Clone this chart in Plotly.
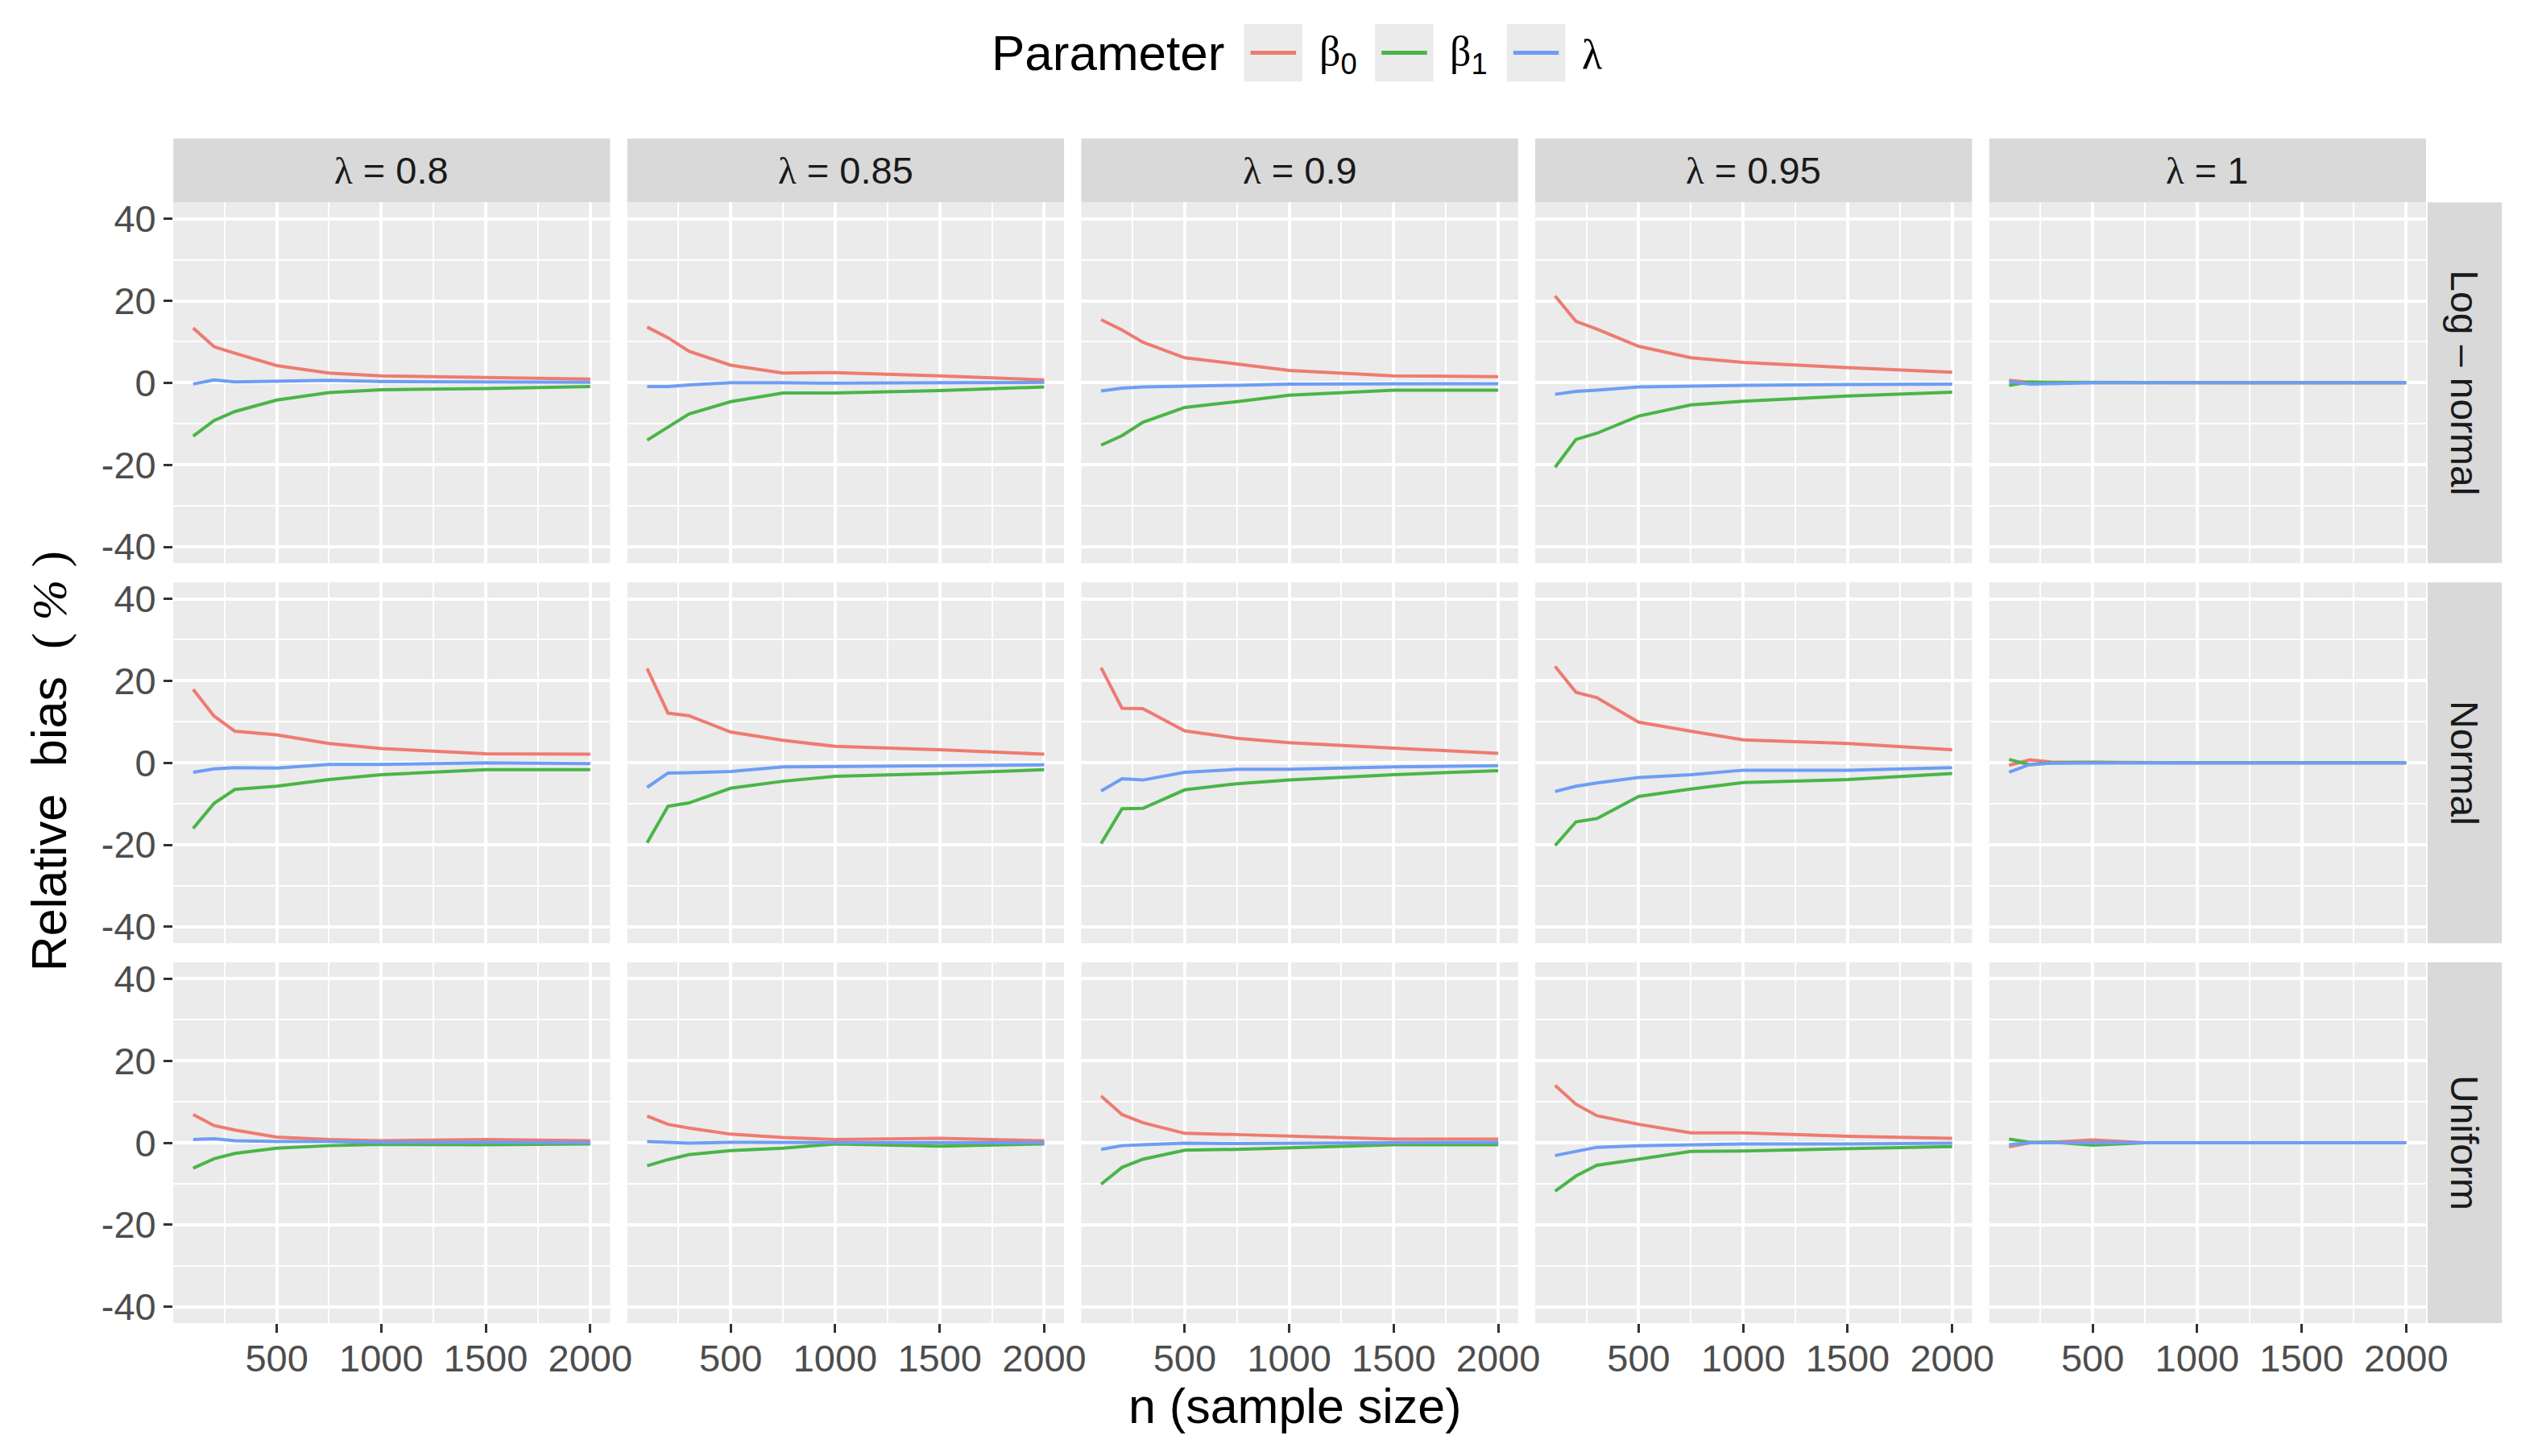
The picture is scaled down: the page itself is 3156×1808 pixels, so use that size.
import plotly.graph_objects as go
from plotly.subplots import make_subplots

# sample sizes on the x axis
n = [100, 200, 300, 500, 750, 1000, 1500, 2000]

lambdas = ["0.8", "0.85", "0.9", "0.95", "1"]
dists = ["Log \u2013 normal", "Normal", "Uniform"]

# relative bias (%), one list per lambda (0.8, 0.85, 0.9, 0.95, 1)
lognormal_beta0 = [[13.4, 8.8, 7.2, 4.2, 2.4, 1.7, 1.3, 0.9],
                   [13.6, 11.0, 7.7, 4.3, 2.4, 2.5, 1.7, 0.7],
                   [15.4, 12.9, 9.9, 6.1, 4.6, 3.0, 1.7, 1.5],
                   [21.2, 15.0, 13.1, 8.9, 6.1, 5.0, 3.7, 2.6],
                   [0.6, 0.1, 0.0, 0.0, 0.0, 0.0, 0.0, 0.0]]
lognormal_beta1 = [[-13.0, -9.2, -7.0, -4.2, -2.4, -1.7, -1.4, -0.9],
                   [-14.0, -10.8, -7.6, -4.6, -2.5, -2.5, -1.9, -1.0],
                   [-15.2, -12.9, -9.6, -6.0, -4.6, -3.0, -1.8, -1.8],
                   [-20.6, -13.8, -12.3, -8.1, -5.4, -4.5, -3.2, -2.3],
                   [-0.6, 0.2, 0.1, 0.1, 0.1, 0.1, 0.0, 0.0]]
lognormal_lambda = [[-0.3, 0.7, 0.2, 0.3, 0.6, 0.3, 0.2, 0.1],
                    [-0.9, -0.9, -0.5, 0.0, 0.0, -0.1, 0.0, 0.1],
                    [-2.0, -1.3, -1.0, -0.9, -0.6, -0.3, -0.2, -0.2],
                    [-2.8, -2.1, -1.8, -1.0, -0.8, -0.6, -0.4, -0.3],
                    [0.3, -0.3, -0.2, 0.0, 0.0, 0.0, 0.0, 0.0]]

normal_beta0 = [[17.9, 11.4, 7.7, 6.8, 4.7, 3.5, 2.2, 2.1],
                [23.0, 12.1, 11.5, 7.5, 5.5, 4.0, 3.2, 2.1],
                [23.2, 13.3, 13.2, 7.8, 6.0, 4.9, 3.6, 2.3],
                [23.5, 17.2, 15.9, 9.9, 7.7, 5.6, 4.7, 3.2],
                [-0.6, 0.7, 0.2, 0.1, 0.0, 0.0, 0.0, 0.0]]
normal_beta1 = [[-16.0, -9.9, -6.5, -5.7, -4.1, -2.9, -1.7, -1.7],
                [-19.5, -10.6, -9.8, -6.2, -4.5, -3.3, -2.6, -1.7],
                [-19.7, -11.2, -11.1, -6.6, -5.1, -4.2, -2.9, -1.9],
                [-20.2, -14.4, -13.6, -8.2, -6.4, -4.8, -4.1, -2.6],
                [0.8, -0.5, 0.0, 0.1, 0.0, 0.0, 0.0, 0.0]]
normal_lambda = [[-2.3, -1.5, -1.2, -1.3, -0.4, -0.4, 0.0, -0.2],
                 [-6.0, -2.5, -2.4, -2.1, -1.0, -0.9, -0.8, -0.5],
                 [-6.9, -3.9, -4.2, -2.3, -1.6, -1.6, -1.0, -0.7],
                 [-7.0, -5.7, -4.9, -3.6, -2.9, -1.8, -1.8, -1.2],
                 [-2.3, -0.4, -0.1, 0.0, 0.0, 0.0, 0.0, 0.0]]

uniform_beta0 = [[6.9, 4.2, 3.1, 1.4, 0.8, 0.5, 0.8, 0.5],
                 [6.5, 4.5, 3.6, 2.1, 1.3, 0.8, 1.1, 0.5],
                 [11.4, 6.9, 4.9, 2.3, 2.0, 1.6, 0.9, 0.9],
                 [14.0, 9.4, 6.6, 4.5, 2.4, 2.4, 1.6, 1.1],
                 [-1.0, 0.0, 0.1, 0.7, 0.0, 0.0, 0.0, 0.0]]
uniform_beta1 = [[-6.2, -3.9, -2.6, -1.3, -0.7, -0.4, -0.5, -0.3],
                 [-5.6, -4.1, -2.9, -1.9, -1.3, -0.3, -0.8, -0.3],
                 [-10.1, -6.0, -4.0, -1.8, -1.6, -1.2, -0.5, -0.5],
                 [-11.8, -8.1, -5.5, -3.9, -2.1, -2.0, -1.4, -0.9],
                 [0.9, 0.1, 0.2, -0.6, 0.0, 0.0, 0.0, 0.0]]
uniform_lambda = [[0.8, 1.0, 0.5, 0.3, 0.3, 0.1, 0.1, 0.0],
                  [0.3, 0.1, -0.1, 0.1, 0.1, 0.1, 0.1, 0.0],
                  [-1.6, -0.7, -0.5, -0.1, -0.2, -0.1, 0.0, 0.1],
                  [-3.1, -2.1, -1.1, -0.7, -0.5, -0.3, -0.3, -0.1],
                  [-0.5, 0.0, 0.0, 0.0, 0.0, 0.0, 0.0, 0.0]]

data_by_dist = [
    [lognormal_beta0, lognormal_beta1, lognormal_lambda],
    [normal_beta0, normal_beta1, normal_lambda],
    [uniform_beta0, uniform_beta1, uniform_lambda],
]
param_colors = ["#EE7B71", "#4AB548", "#6E9DF5"]

# page is 3156 x 1808, everything below in pixels then converted to paper coords
W, H = 3156, 1808
col_left = [217, 785.5, 1354, 1922.5, 2491]
panel_w = 547
row_top = [247, 722, 1197]
panel_h = 451
strip_h = 80

def px(x):
    return x / W

def py(y):
    return 1 - y / H

SANS = "Liberation Sans, Arial, sans-serif"

fig = make_subplots(rows=3, cols=5)

for r in range(3):
    for c in range(5):
        for k in range(3):
            fig.add_trace(go.Scatter(x=n, y=data_by_dist[r][k][c], mode="lines",
                                     line=dict(color=param_colors[k], width=4),
                                     showlegend=False, hoverinfo="skip"),
                          row=r + 1, col=c + 1)
        fig.update_xaxes(domain=[px(col_left[c]), px(col_left[c] + panel_w)],
                         range=[5, 2095],
                         tickmode="array", tickvals=[500, 1000, 1500, 2000],
                         ticktext=["500", "1000", "1500", "2000"],
                         showgrid=True, gridcolor="white", gridwidth=4,
                         minor=dict(tickvals=[250, 750, 1250, 1750], showgrid=True,
                                    gridcolor="white", gridwidth=2, ticks=""),
                         zeroline=False, showline=False,
                         showticklabels=(r == 2),
                         ticks="outside" if r == 2 else "", ticklen=11, tickwidth=3,
                         tickcolor="#333333", ticklabelstandoff=-8,
                         tickfont=dict(family=SANS, size=47, color="#4D4D4D"),
                         row=r + 1, col=c + 1)
        fig.update_yaxes(domain=[py(row_top[r] + panel_h), py(row_top[r])],
                         range=[-44, 44],
                         tickmode="array", tickvals=[-40, -20, 0, 20, 40],
                         ticktext=["-40", "-20", "0", "20", "40"],
                         showgrid=True, gridcolor="white", gridwidth=4,
                         minor=dict(tickvals=[-30, -10, 10, 30], showgrid=True,
                                    gridcolor="white", gridwidth=2, ticks=""),
                         zeroline=False, showline=False,
                         showticklabels=(c == 0),
                         ticks="outside" if c == 0 else "", ticklen=11, tickwidth=3,
                         tickcolor="#333333",
                         tickfont=dict(family=SANS, size=47, color="#4D4D4D"),
                         row=r + 1, col=c + 1)

shapes = []
annots = []

def label(x, y, text, size, color="black", angle=0, xanchor="center"):
    # paper annotations default to 'auto' anchors, which shifts them, so pin them
    return dict(xref="paper", yref="paper", x=px(x), y=py(y), text=text,
                xanchor=xanchor, yanchor="middle", textangle=angle, showarrow=False,
                font=dict(family=SANS, size=size, color=color))

# facet strips on top (lambda)
for c in range(5):
    x0 = col_left[c]
    shapes.append(dict(type="rect", xref="paper", yref="paper", layer="below",
                       x0=px(x0), x1=px(x0 + panel_w), y0=py(row_top[0]), y1=py(row_top[0] - strip_h),
                       fillcolor="#D9D9D9", line=dict(width=0)))
    annots.append(label(x0 + panel_w / 2, row_top[0] - strip_h / 2,
                        '<span style="font-family:Liberation Serif">\u03bb</span> = ' + lambdas[c],
                        47, "#1A1A1A"))

# facet strips on the right (error distribution)
strip_x0 = col_left[4] + panel_w + 2
strip_x1 = strip_x0 + 93
for r in range(3):
    shapes.append(dict(type="rect", xref="paper", yref="paper", layer="below",
                       x0=px(strip_x0), x1=px(strip_x1), y0=py(row_top[r] + panel_h), y1=py(row_top[r]),
                       fillcolor="#D9D9D9", line=dict(width=0)))
    annots.append(label((strip_x0 + strip_x1) / 2, row_top[r] + panel_h / 2, dists[r],
                        48, "#1A1A1A", angle=90))

# axis titles
annots.append(label(1622, 1752, "n (sample size)", 61))
annots.append(label(62, 945,
                    'Relative\u00a0\u00a0bias\u00a0\u00a0<span style="font-family:Liberation Serif">(\u00a0<i>%</i>\u00a0)</span>',
                    61, angle=-90))

# legend drawn by hand so the keys get the grey boxes like ggplot
annots.append(label(1240, 60, "Parameter", 62, xanchor="left"))
key_x = [1558, 1722, 1887]
labels = ['<span style="font-family:Liberation Serif">\u03b2</span><sub>0</sub>',
          '<span style="font-family:Liberation Serif">\u03b2</span><sub>1</sub>',
          '<span style="font-family:Liberation Serif">\u03bb</span>']
for k in range(3):
    shapes.append(dict(type="rect", xref="paper", yref="paper",
                       x0=px(key_x[k]), x1=px(key_x[k] + 73), y0=py(96), y1=py(24),
                       fillcolor="#EBEBEB", line=dict(width=0)))
    shapes.append(dict(type="line", xref="paper", yref="paper",
                       x0=px(key_x[k] + 8), x1=px(key_x[k] + 65), y0=py(60), y1=py(60),
                       line=dict(color=param_colors[k], width=5)))
    annots.append(label(key_x[k] + 92, 62, labels[k], 52, xanchor="left"))

fig.update_layout(width=W, height=H, margin=dict(l=0, r=0, t=0, b=0),
                  paper_bgcolor="white", plot_bgcolor="#EBEBEB",
                  shapes=shapes, annotations=annots, showlegend=False,
                  font=dict(family=SANS))

# drop the default 8px body margin so the figure sits at the page corner
fig.write_html("out.html", config={"displayModeBar": False},
               post_script="document.body.style.margin='0px';")
